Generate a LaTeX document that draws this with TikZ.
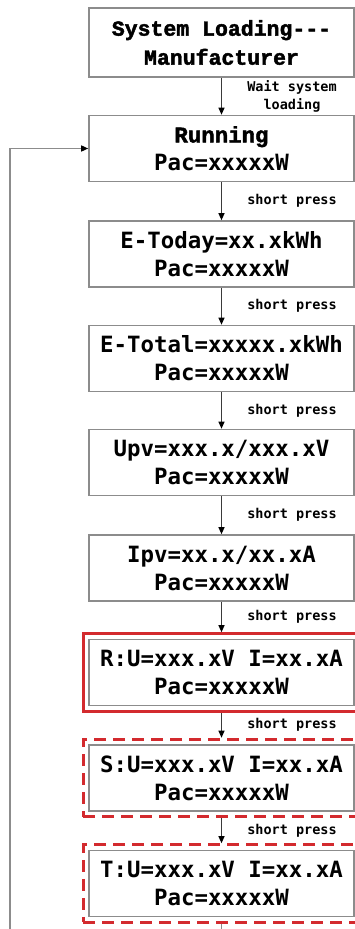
\documentclass[tikz,border=0pt]{standalone}
\usepackage{fontspec}
\setmonofont{DejaVu Sans Mono}
\newfontfamily\courmono[BoldFeatures={FakeBold=2}]{Liberation Mono}
\usetikzlibrary{arrows.meta,fit}
\definecolor{boxgray}{HTML}{8C8C8C}
\definecolor{alarmred}{HTML}{D32A2E}
\definecolor{flow}{HTML}{3A3A3A}

\begin{document}
\begin{tikzpicture}[x=1pt,y=-1pt,
  screen/.style={draw=boxgray, line width=1.6pt, minimum width=265pt, minimum height=66pt,
    inner sep=0pt, align=center, font=\ttfamily\bfseries\fontsize{22.4}{28}\selectfont},
  phaseframe/.style={draw=alarmred, line width=3pt, inner xsep=5pt, inner ysep=5pt},
  flowarrow/.style={draw=flow, line width=1pt, -{Triangle[length=7pt,width=6pt,color=black]}},
  steplabel/.style={right, xshift=22pt, align=center, font=\ttfamily\bfseries\fontsize{13.5}{18}\selectfont}]
  \clip (0,0) rectangle (355,929);

  % Start-up and normal display
  \node[screen, minimum height=69pt, font=\courmono\bfseries\fontsize{21.5}{29}\selectfont] (load) at (221.5,42.5) {System Loading{-}{-}{-}\\Manufacturer};
  \node[screen] (run) at (221.5,148.5) {{\courmono Running}\\Pac=xxxxxW};
  \node[screen] (today) at (221.5,254) {E-Today=xx.xkWh\\Pac=xxxxxW};
  \node[screen] (total) at (221.5,358.5) {E-Total=xxxxx.xkWh\\Pac=xxxxxW};
  \node[screen] (upv) at (221.5,462.5) {Upv=xxx.x/xxx.xV\\Pac=xxxxxW};
  \node[screen] (ipv) at (221.5,568) {Ipv=xx.x/xx.xA\\Pac=xxxxxW};

  % Grid phases, framed in red
  \node[screen] (phR) at (221.5,672.5) {R:U=xxx.xV I=xx.xA\\Pac=xxxxxW};
  \node[screen] (phS) at (221.5,778) {S:U=xxx.xV I=xx.xA\\Pac=xxxxxW};
  \node[screen] (phT) at (221.5,883.5) {T:U=xxx.xV I=xx.xA\\Pac=xxxxxW};
  \node[phaseframe, fit=(phR)] (phRf) {};
  \node[phaseframe, dash pattern=on 12pt off 7pt, fit=(phS)] (phSf) {};
  \node[phaseframe, dash pattern=on 12pt off 7pt, fit=(phT)] (phTf) {};

  % Key presses
  \draw[flowarrow] (load) -- node[steplabel]{Wait system\\loading} (run);
  \draw[flowarrow] (run) -- node[steplabel]{short press} (today);
  \draw[flowarrow] (today) -- node[steplabel]{short press} (total);
  \draw[flowarrow] (total) -- node[steplabel]{short press} (upv);
  \draw[flowarrow] (upv) -- node[steplabel]{short press} (ipv);
  \draw[flowarrow] (ipv) -- node[steplabel]{short press} (phRf);
  \draw[flowarrow] (phRf) -- node[steplabel]{short press} (phSf);
  \draw[flowarrow] (phSf) -- node[steplabel]{short press} (phTf);

  % Back to the start
  \coordinate (loopturn) at (10,960);
  \draw[flowarrow, draw=boxgray, line width=1.4pt] (phTf.south) |- (loopturn) |- (run.west);
\end{tikzpicture}
\end{document}
